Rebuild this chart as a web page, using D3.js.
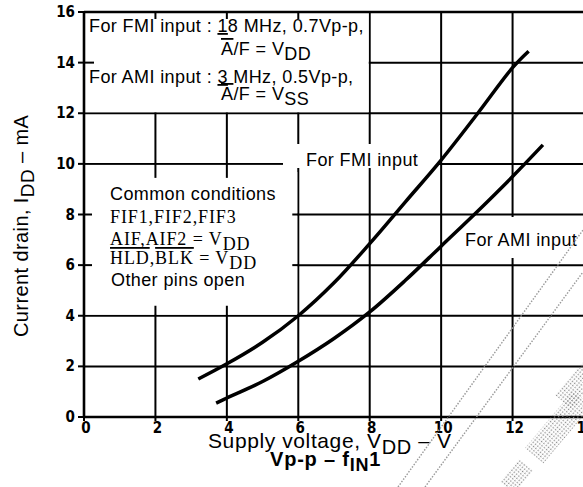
<!DOCTYPE html>
<html>
<head>
<meta charset="utf-8">
<script src="https://cdn.jsdelivr.net/npm/d3@7"></script>
<style>
  body { margin: 0; background: #fff; }
  svg { display: block; }
  .sans { font-family: "Liberation Sans", Arial, sans-serif; letter-spacing: 0.4px; }
  .serif { font-family: "Liberation Serif", "Times New Roman", serif; letter-spacing: 0.9px; }
  .tick { font-family: "DejaVu Sans Condensed", "Liberation Sans Narrow", sans-serif; font-weight: bold; font-size: 15px; }
</style>
</head>
<body>
<svg id="chart" width="583" height="487"></svg>
<script>
// supply voltage (V) vs current drain (mA)
var fmiV = [3.2, 4, 5, 6, 7, 8, 9, 10, 11, 12, 12.45];
var fmiI = [1.5, 2.1, 2.95, 4.0, 5.3, 6.85, 8.5, 10.15, 11.95, 13.8, 14.45];
var amiV = [3.7, 4, 5, 6, 7, 8, 9, 10, 11, 12, 12.85];
var amiI = [0.55, 0.75, 1.4, 2.2, 3.1, 4.15, 5.4, 6.75, 8.1, 9.5, 10.75];

var xTicks = [0, 2, 4, 6, 8, 10, 12, 14];
var yTicks = [0, 2, 4, 6, 8, 10, 12, 14, 16];

var svg = d3.select("#chart");
var x = d3.scaleLinear().domain([0, 14]).range([84, 584]);
var y = d3.scaleLinear().domain([0, 16]).range([417, 12]);

// dotted pattern for the scan smudges
var defs = svg.append("defs");
var pat = defs.append("pattern").attr("id", "dots")
    .attr("width", 3).attr("height", 3).attr("patternUnits", "userSpaceOnUse");
pat.append("rect").attr("width", 1.3).attr("height", 1.3).attr("fill", "#888");

// grid
var grid = svg.append("g").attr("stroke", "#000").attr("stroke-width", 2);
grid.selectAll("line.v").data(xTicks.filter(d => d > 0))
    .enter().append("line")
    .attr("x1", d => x(d)).attr("x2", d => x(d))
    .attr("y1", y(0)).attr("y2", y(16));
grid.selectAll("line.h").data(yTicks.filter(d => d > 0))
    .enter().append("line")
    .attr("x1", x(0)).attr("x2", 583)
    .attr("y1", d => y(d)).attr("y2", d => y(d));

// white boxes over the grid
function box(x0, x1, y0, y1) {
    svg.append("rect")
        .attr("x", x(x0) + 1).attr("y", y(y1) + 1)
        .attr("width", x(x1) - x(x0) - 2).attr("height", y(y0) - y(y1) - 2)
        .attr("fill", "#fff");
}
box(0, 8, 12, 16);
box(0, 6, 4, 10);
svg.append("rect").attr("x", 283).attr("y", 141).attr("width", 154).attr("height", 31).attr("fill", "#fff");
svg.append("rect").attr("x", 444).attr("y", 217).attr("width", 139).attr("height", 41).attr("fill", "#fff");

// little tick stubs left on the box edges
var stubs = svg.append("g").attr("stroke", "#000").attr("stroke-width", 2);
[2, 4, 6].forEach(function(d) {
    stubs.append("line").attr("x1", x(d)).attr("x2", x(d)).attr("y1", y(16)).attr("y2", y(16) + 7);
});
stubs.append("line").attr("x1", x(0)).attr("x2", x(0) + 10).attr("y1", y(14)).attr("y2", y(14));
[2, 4].forEach(function(d) {
    stubs.append("line").attr("x1", x(d)).attr("x2", x(d)).attr("y1", y(10)).attr("y2", y(10) + 14);
    stubs.append("line").attr("x1", x(d)).attr("x2", x(d)).attr("y1", y(4)).attr("y2", y(4) - 10);
});
[6, 8].forEach(function(d) {
    stubs.append("line").attr("x1", x(0)).attr("x2", x(0) + 8).attr("y1", y(d)).attr("y2", y(d));
    stubs.append("line").attr("x1", x(6) - 6).attr("x2", x(6)).attr("y1", y(d)).attr("y2", y(d));
});
[6, 8].forEach(function(d) {
    stubs.append("line").attr("x1", x(d)).attr("x2", x(d)).attr("y1", 141).attr("y2", 144);
    stubs.append("line").attr("x1", x(d)).attr("x2", x(d)).attr("y1", 172).attr("y2", 168);
});

// axes
var axes = svg.append("g").attr("stroke", "#000").attr("stroke-width", 2.6);
axes.append("line").attr("x1", x(0)).attr("x2", x(0)).attr("y1", y(0) + 1).attr("y2", y(16));
axes.append("line").attr("x1", x(0)).attr("x2", 583).attr("y1", y(0)).attr("y2", y(0));
axes.append("line").attr("x1", x(0)).attr("x2", 583).attr("y1", y(16)).attr("y2", y(16));
axes.selectAll("line.yt").data(yTicks).enter().append("line")
    .attr("x1", x(0) - 6).attr("x2", x(0)).attr("y1", d => y(d)).attr("y2", d => y(d))
    .attr("stroke-width", 2);
axes.selectAll("line.xt").data(xTicks).enter().append("line")
    .attr("x1", d => x(d)).attr("x2", d => x(d)).attr("y1", y(0)).attr("y2", y(0) + 4)
    .attr("stroke-width", 2);

svg.selectAll("text.yl").data(yTicks).enter().append("text")
    .attr("class", "tick").attr("x", 75).attr("y", d => y(d) + 5)
    .attr("text-anchor", "end").text(d => d);
svg.selectAll("text.xl").data(xTicks).enter().append("text")
    .attr("class", "tick").attr("x", d => x(d) + 2).attr("y", y(0) + 16)
    .attr("text-anchor", "middle").text(d => d);

// curves
var line = d3.line().x(d => x(d[0])).y(d => y(d[1])).curve(d3.curveCatmullRom.alpha(0.5));
svg.append("path").datum(d3.zip(fmiV, fmiI)).attr("d", line)
    .attr("fill", "none").attr("stroke", "#000").attr("stroke-width", 3.5);
svg.append("path").datum(d3.zip(amiV, amiI)).attr("d", line)
    .attr("fill", "none").attr("stroke", "#000").attr("stroke-width", 3.5);

// texts
function t(cls, px, py, size) {
    return svg.append("text").attr("class", cls).attr("x", px).attr("y", py).attr("font-size", size);
}
var l1 = t("sans", 89, 32, 18);
l1.append("tspan").text("For FMI input : ");
l1.append("tspan").attr("text-decoration", "underline").text("1");
l1.append("tspan").text("8 MHz, 0.7Vp-p,");
var l2 = t("sans", 221, 55, 18);
l2.append("tspan").attr("text-decoration", "overline").text("A");
l2.append("tspan").text("/F = V");
l2.append("tspan").attr("dy", 5).text("DD");
var l3 = t("sans", 89, 83, 18);
l3.append("tspan").text("For AMI input : ");
l3.append("tspan").attr("text-decoration", "underline").text("3");
l3.append("tspan").text(" MHz, 0.5Vp-p,");
var l4 = t("sans", 221, 100, 18);
l4.append("tspan").attr("text-decoration", "overline").text("A");
l4.append("tspan").text("/F = V");
l4.append("tspan").attr("dy", 5).text("SS");

t("sans", 110, 200, 18).text("Common conditions");
t("serif", 110, 223, 18).text("FIF1,FIF2,FIF3");
var c3 = t("serif", 110, 245, 18);
c3.append("tspan").text("AIF,AIF2 = V");
c3.append("tspan").attr("dy", 5).text("DD");
var c4 = t("serif", 110, 264, 18);
c4.append("tspan").attr("text-decoration", "overline").text("HLD");
c4.append("tspan").text(",");
c4.append("tspan").attr("text-decoration", "overline").text("BLK");
c4.append("tspan").text(" = V");
c4.append("tspan").attr("dy", 5).text("DD");
t("sans", 111, 286, 18).text("Other pins open");

t("sans", 306, 166, 18).text("For FMI input");
t("sans", 465, 246, 18).text("For AMI input");

var xl = t("sans", 208, 448, 21).style("letter-spacing", "0.6px");
xl.append("tspan").text("Supply voltage, V");
xl.append("tspan").attr("dy", 6).attr("font-size", 20).text("DD");
xl.append("tspan").attr("dy", -6).text(" \u2013 V");

var xl2 = t("sans", 270, 466, 20).attr("font-weight", "bold").style("letter-spacing", "0.8px");
xl2.append("tspan").text("Vp-p \u2013 f");
xl2.append("tspan").attr("dy", 5).attr("font-size", 18).text("IN");
xl2.append("tspan").attr("dy", -5).text("1");

var yl = svg.append("text").attr("class", "sans").attr("font-size", 20)
    .attr("transform", "translate(28,337) rotate(-90)");
yl.append("tspan").text("Current drain, I");
yl.append("tspan").attr("dy", 6).attr("font-size", 19).text("DD");
yl.append("tspan").attr("dy", -6).text(" \u2013 mA");

// title, cut off by the top edge
var tt = t("sans", 275, -6, 18).attr("font-weight", "bold");
tt.append("tspan").text("I");
tt.append("tspan").attr("dy", 6).text("DD");
tt.append("tspan").attr("dy", -6).text(" \u2013 V");
tt.append("tspan").attr("dy", 6).text("DD");

// scan smudges
var sm = svg.append("g").attr("stroke", "#999").attr("stroke-width", 1.4).attr("stroke-dasharray", "1.5,1.5");
sm.append("line").attr("x1", 398).attr("y1", 487).attr("x2", 583).attr("y2", 230);
sm.append("line").attr("x1", 425).attr("y1", 487).attr("x2", 583).attr("y2", 272);
var blobs = [[555, 395, 45, 22], [525, 448, 75, 24], [500, 482, 30, 18]];
blobs.forEach(function(b) {
    svg.append("rect").attr("x", b[0]).attr("y", b[1]).attr("width", b[2]).attr("height", b[3])
        .attr("fill", "url(#dots)").attr("transform", "rotate(-50," + b[0] + "," + b[1] + ")");
});
</script>
</body>
</html>
